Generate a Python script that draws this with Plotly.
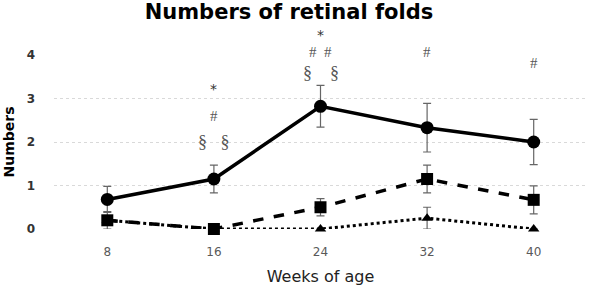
import plotly.graph_objects as go

weeks = ["8", "16", "24", "32", "40"]
solid_vals = [0.68, 1.15, 2.82, 2.33, 2.0]
solid_err = [0.3, 0.32, 0.48, 0.56, 0.52]
dash_vals = [0.2, 0.0, 0.5, 1.15, 0.67]
dash_err = [0.2, 0.0, 0.2, 0.32, 0.32]
dot_vals = [0.2, 0.0, 0.0, 0.25, 0.0]
dot_err = [0.0, 0.0, 0.0, 0.25, 0.0]
y_ticks = [0, 1, 2, 3, 4]

# significance marks: (category index, y value, text)
marks_x = [1, 1, 1, 2, 2, 2, 3, 4]
marks_y = [3.22, 2.6, 2.0, 4.47, 4.06, 3.58, 4.06, 3.82]
marks_t = ["*", "#", "§\u00a0\u00a0\u00a0§", "*", "#\u00a0\u00a0#", "§\u00a0\u00a0\u00a0\u00a0§", "#", "#"]

Y_MAX = 4

fig = go.Figure()

def add(vals, err, dash, symbol, width, size):
    fig.add_trace(go.Scatter(
        x=list(range(len(weeks))), y=vals,
        mode="lines+markers",
        line=dict(color="black", width=width, dash=dash),
        marker=dict(symbol=symbol, size=size, color="black"),
        error_y=dict(type="data", array=err, visible=True, color="#666666",
                     thickness=1.2, width=4),
        showlegend=False, cliponaxis=False,
    ))

add(dot_vals, dot_err, "dot", "triangle-up", 3, 10)
add(dash_vals, dash_err, "dash", "square", 3.5, 12)
add(solid_vals, solid_err, "solid", "circle", 3.5, 13)

for x, y, t in zip(marks_x, marks_y, marks_t):
    is_star = t == "*"
    is_sect = "§" in t
    fig.add_annotation(x=x, y=y / Y_MAX, text=t, showarrow=False, xref="x", yref="paper",
                       yanchor="middle", borderpad=0,
                       font=dict(family="DejaVu Sans" if is_star else "Liberation Serif",
                                 size=14 if is_star else (18 if is_sect else 15),
                                 color="#333333" if is_star else "#555555"))

fig.update_layout(
    width=597, height=304,
    margin=dict(l=54, r=10, t=55, b=75),
    paper_bgcolor="white", plot_bgcolor="white",
    title=dict(text="<b>Numbers of retinal folds</b>", x=0.484, xanchor="center",
               y=0.962, yanchor="middle",
               font=dict(family="DejaVu Sans", size=21, color="black")),
    xaxis=dict(tickmode="array", tickvals=list(range(len(weeks))), ticktext=weeks,
               range=[-0.5, 4.5], showgrid=False, zeroline=False, showline=False,
               ticks="", ticklabelstandoff=14,
               tickfont=dict(family="DejaVu Sans", size=12, color="#595959"),
               title=dict(text="Weeks of age", standoff=12,
                          font=dict(family="DejaVu Sans", size=16, color="#222222"))),
    yaxis=dict(range=[0, Y_MAX], tickmode="array", tickvals=y_ticks,
               ticktext=[f"<b>{v}</b>" for v in y_ticks], showgrid=True,
               gridcolor="#d9d9d9", griddash="dot", gridwidth=1, zeroline=False,
               showline=False, ticks="", ticklabelstandoff=18,
               tickfont=dict(family="DejaVu Sans", size=12, color="#333333"),
               title=dict(text="<b>Numbers</b>", standoff=8,
                          font=dict(family="DejaVu Sans", size=14, color="black"))),
)

fig.write_html("out.html")
